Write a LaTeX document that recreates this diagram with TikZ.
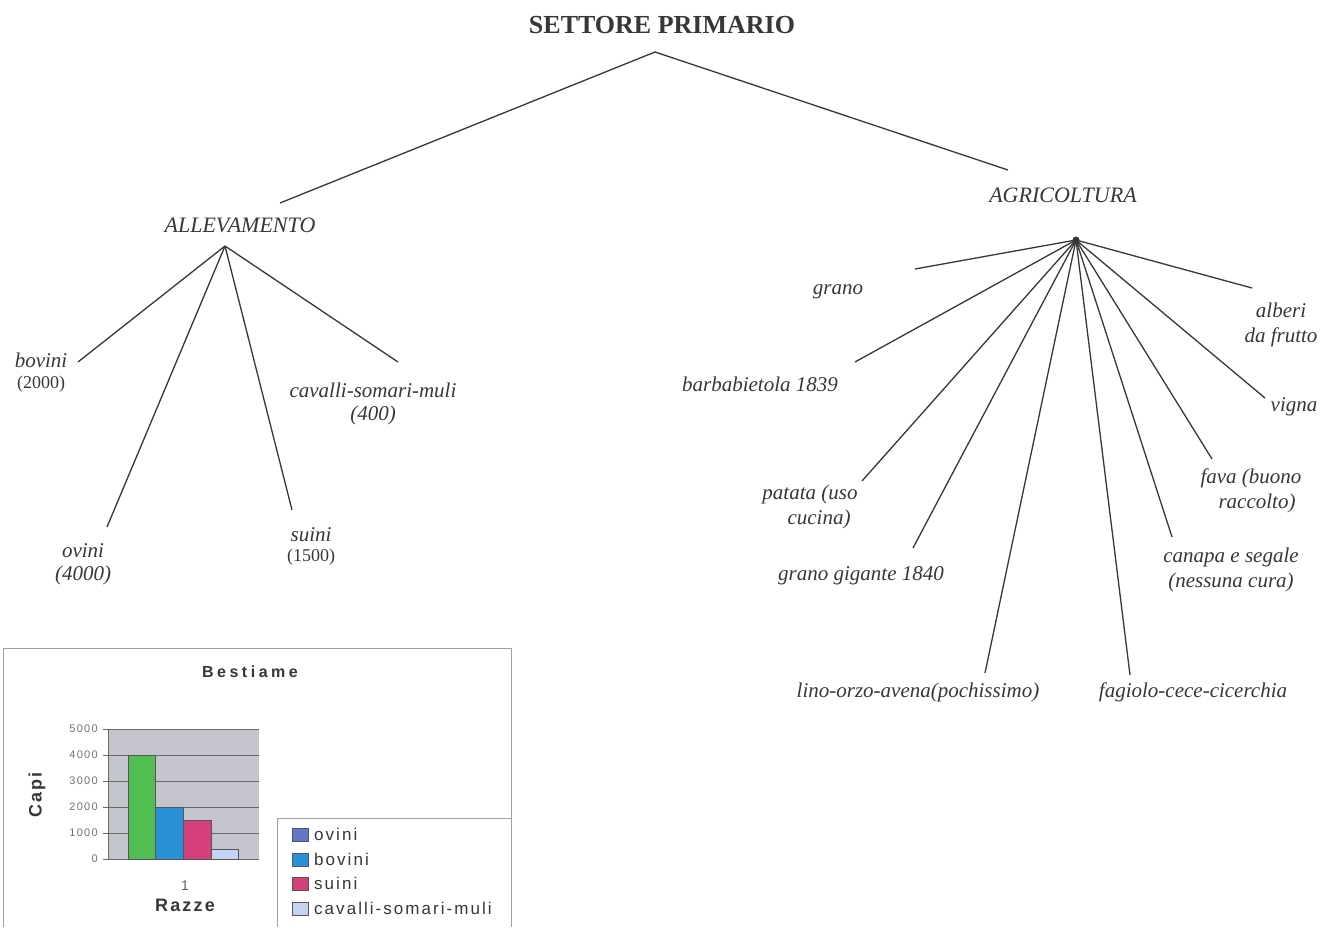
\documentclass[tikz,border=0pt]{standalone}
\usepackage{fontspec}
\setmainfont{Liberation Serif}
\setsansfont{Liberation Sans}
\newfontfamily\chartfont[LetterSpace=12]{Liberation Sans}
\newfontfamily\titlefont[LetterSpace=22]{Liberation Sans}
\usetikzlibrary{positioning}
\definecolor{ink}{RGB}{55,55,55}
\definecolor{frame}{RGB}{160,160,160}
\definecolor{plotgray}{RGB}{196,196,204}
\definecolor{barA}{RGB}{80,190,80}
\definecolor{barB}{RGB}{40,145,216}
\definecolor{barC}{RGB}{214,64,122}
\definecolor{barD}{RGB}{196,210,244}
\definecolor{keyA}{RGB}{100,118,200}

\begin{document}
\begin{tikzpicture}[x=1pt, y=-1pt,
    branch/.style={draw=ink, line width=1.3pt},
    head/.style={font=\fontsize{26}{30}\selectfont\bfseries, text=ink},
    sector/.style={font=\fontsize{22}{25}\selectfont\itshape, text=ink},
    item/.style={font=\fontsize{21}{25}\selectfont\itshape, text=ink, align=center, inner sep=0pt},
    num/.style={font=\fontsize{18}{21}\selectfont, text=ink, inner sep=0pt},
    tick/.style={font=\chartfont\fontsize{11}{13}\selectfont, text=ink!70, anchor=east, inner sep=0pt},
    key/.style={font=\chartfont\fontsize{17}{19}\selectfont, text=ink, anchor=west, inner sep=0pt},
    bar/.style={draw=ink!85, line width=1pt}]
    \fill[white] (0,0) rectangle (1322,927);
    \useasboundingbox (0,0) rectangle (1322,927);

    \node[head] (settore) at (662,25) {SETTORE PRIMARIO};
    \node[sector] (allev) at (240,225) {ALLEVAMENTO};
    \node[sector] (agri) at (1063,195) {AGRICOLTURA};

    \coordinate (topfan) at (655,52);
    \coordinate (toallev) at (280,203);
    \coordinate (toagri) at (1008,170);
    \draw[branch] (toallev) -- (topfan) -- (toagri);

    % allevamento
    \node[item] (bovini) at (41,360) {bovini};
    \node[num, below=8pt of bovini] (nbovini) {(2000)};
    \node[item] (ovini) at (83,551) {ovini};
    \node[item, below=7pt of ovini] (novini) {(4000)};
    \node[item] (suini) at (311,535) {suini};
    \node[num, below=7pt of suini] (nsuini) {(1500)};
    \node[item] (cavalli) at (373,390) {cavalli-somari-muli};
    \node[item, below=8pt of cavalli] (ncavalli) {(400)};

    \coordinate (allevfan) at (225,246);
    \coordinate (endbovini) at (78,362);
    \coordinate (endovini) at (107,527);
    \coordinate (endsuini) at (292,510);
    \coordinate (endcavalli) at (398,362);
    \draw[branch] (allevfan) -- (endbovini);
    \draw[branch] (allevfan) -- (endovini);
    \draw[branch] (allevfan) -- (endsuini);
    \draw[branch] (allevfan) -- (endcavalli);

    % agricoltura
    \node[item] (grano) at (838,292) {grano};
    \node[item] (barba) at (760,384) {barbabietola 1839};
    \node[item] (patata) at (810,507) {patata (uso\\\hspace*{18pt}cucina)};
    \node[item] (gigante) at (861,576) {grano gigante 1840};
    \node[item] (lino) at (918,692) {lino-orzo-avena(pochissimo)};
    \node[item] (fagiolo) at (1193,692) {fagiolo-cece-cicerchia};
    \node[item] (canapa) at (1231,570) {canapa e segale\\(nessuna cura)};
    \node[item] (fava) at (1251,491) {fava (buono\\\hspace*{12pt}raccolto)};
    \node[item] (vigna) at (1294,407) {vigna};
    \node[item] (alberi) at (1281,325) {alberi\\da frutto};

    \coordinate (agrifan) at (1076,240);
    \coordinate (endgrano) at (915,269);
    \coordinate (endbarba) at (855,362);
    \coordinate (endpatata) at (862,481);
    \coordinate (endgigante) at (913,548);
    \coordinate (endlino) at (985,673);
    \coordinate (endfagiolo) at (1130,675);
    \coordinate (endcanapa) at (1172,537);
    \coordinate (endfava) at (1212,459);
    \coordinate (endvigna) at (1265,398);
    \coordinate (endalberi) at (1252,288);
    \draw[branch] (agrifan) -- (endgrano);
    \draw[branch] (agrifan) -- (endbarba);
    \draw[branch] (agrifan) -- (endpatata);
    \draw[branch] (agrifan) -- (endgigante);
    \draw[branch] (agrifan) -- (endlino);
    \draw[branch] (agrifan) -- (endfagiolo);
    \draw[branch] (agrifan) -- (endcanapa);
    \draw[branch] (agrifan) -- (endfava);
    \draw[branch] (agrifan) -- (endvigna);
    \draw[branch] (agrifan) -- (endalberi);
    \fill[ink] (agrifan) circle (3.5pt);

    % grafico
    \draw[frame, line width=1pt] (3,927) |- (511,648) -- (511,927);
    \node[font=\titlefont\bfseries\fontsize{16}{19}\selectfont, text=ink] (titolo) at (250,672) {Bestiame};
    \fill[plotgray] (108,729) rectangle (259,859);
    \foreach \v/\y in {5000/729, 4000/755, 3000/781, 2000/807, 1000/833, 0/859} {
        \draw[ink!75, line width=0.9pt] (103,\y) -- (259,\y);
        \node[tick] at (98,\y) {\v};
    }
    \draw[ink!75, line width=0.9pt] (108,729) -- (108,859);
    \draw[bar, fill=barA] (128,859) rectangle (155,755);
    \draw[bar, fill=barB] (155,859) rectangle (183,807);
    \draw[bar, fill=barC] (183,859) rectangle (211,820);
    \draw[bar, fill=barD] (211,859) rectangle (238,849);
    \node[font=\chartfont\bfseries\fontsize{18}{20}\selectfont, text=ink, rotate=90] (capi) at (37,795) {Capi};
    \node[font=\chartfont\fontsize{14}{16}\selectfont, text=ink!80] (cat) at (185,886) {1};
    \node[font=\chartfont\bfseries\fontsize{18}{20}\selectfont, text=ink, below=1pt of cat] (razze) {Razze};

    \draw[frame, line width=1pt] (277,927) |- (511,818);
    \draw[bar, fill=keyA] (292,828) rectangle (308,841);
    \draw[bar, fill=barB] (292,853) rectangle (308,866);
    \draw[bar, fill=barC] (292,877) rectangle (308,890);
    \draw[bar, fill=barD] (292,902) rectangle (308,915);
    \node[key] (kovini) at (314,834) {ovini};
    \node[key] (kbovini) at (314,859) {bovini};
    \node[key] (ksuini) at (314,883) {suini};
    \node[key] (kcavalli) at (314,908) {cavalli-somari-muli};
\end{tikzpicture}
\end{document}
